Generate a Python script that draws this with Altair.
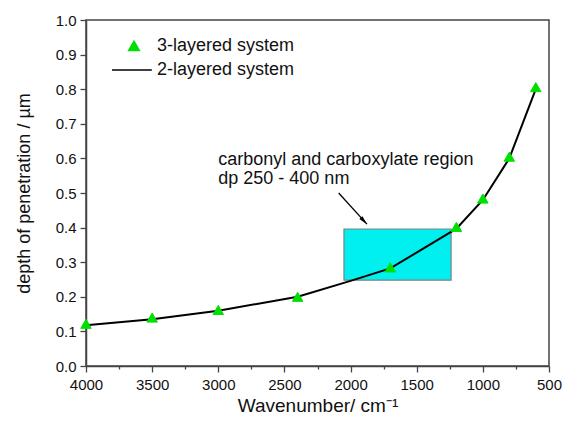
import altair as alt
import pandas as pd

# 3-layered system (triangles)
tri_x = [4000, 3500, 3000, 2400, 1700, 1200, 1000, 800, 600]
tri_y = [0.122, 0.140, 0.162, 0.200, 0.285, 0.402, 0.484, 0.605, 0.806]
# 2-layered system (line)
line_x = [4000, 3500, 3000, 2400, 2000, 1700, 1200, 1000, 800, 600]
line_y = [0.118, 0.135, 0.160, 0.200, 0.246, 0.282, 0.397, 0.480, 0.600, 0.800]
series_names = ["3-layered system", "2-layered system"]

# highlighted region
rect_x = [2050, 1240]
rect_y = [0.248, 0.396]
# arrow
arrow_x = [2090, 1876]
arrow_y = [0.500, 0.410]
# annotation
note_x = [3000]
note_y = [0.58]
note_text = ["carbonyl and carboxylate region\ndp 250 - 400 nm"]

x_ticks = [4000, 3500, 3000, 2500, 2000, 1500, 1000, 500]
x_minor = [3750, 3250, 2750, 2250, 1750, 1250, 750]
y_ticks = [0.0, 0.1, 0.2, 0.3, 0.4, 0.5, 0.6, 0.7, 0.8, 0.9, 1.0]

df = pd.concat([
    pd.DataFrame({"x": tri_x, "y": tri_y, "series": series_names[0]}),
    pd.DataFrame({"x": line_x, "y": line_y, "series": series_names[1]}),
])
rect_df = pd.DataFrame({"x": [rect_x[0]], "x2": [rect_x[1]], "y": [rect_y[0]], "y2": [rect_y[1]]})
arrow_df = pd.DataFrame({"x": [arrow_x[0]], "x2": [arrow_x[1]], "y": [arrow_y[0]], "y2": [arrow_y[1]]})
head_df = pd.DataFrame({"x": [arrow_x[1]], "y": [arrow_y[1]]})
note_df = pd.DataFrame({"x": note_x, "y": note_y, "t": note_text})
minor_df = pd.DataFrame({"x": x_minor, "y": [0.0] * len(x_minor)})

FONT = "Liberation Sans"
GREEN = "#00E000"
xscale = alt.Scale(domain=[500, 4000], reverse=True, nice=False)
yscale = alt.Scale(domain=[0, 1], nice=False)

x_axis = alt.Axis(values=x_ticks, title="Wavenumber/ cm\u207b\u00b9", orient="bottom",
                  tickSize=6, labelPadding=5, titlePadding=4, labelFontSize=15,
                  titleFontSize=19, grid=False, labelFlush=False, format="d")
x_minor_axis = alt.Axis(values=x_minor, title=None, orient="bottom", labels=False,
                        domain=False, tickSize=3, grid=False)
y_axis = alt.Axis(values=y_ticks, title="depth of penetration / \u00b5m", format=".1f",
                  tickSize=6, labelPadding=4, titlePadding=22, labelFontSize=15,
                  titleFontSize=18, grid=False, labelFlush=False)


def X(axis=None):
    return alt.X("x:Q", scale=xscale, axis=axis)


def Y():
    return alt.Y("y:Q", scale=yscale, axis=y_axis)


legend = alt.Legend(
    title=None, orient="none", legendX=39, legendY=17, rowPadding=6, symbolSize=110,
    labelFontSize=18, labelOffset=14, labelFont=FONT, labelColor="#111",
    symbolStrokeWidth=1.6, symbolFillColor=GREEN, symbolOpacity=1,
)
color = alt.Color("series:N", scale=alt.Scale(domain=series_names, range=[GREEN, "black"]),
                  legend=legend)
shape = alt.Shape("series:N",
                  scale=alt.Scale(domain=series_names, range=["triangle-up", "M-4.2,0L3.4,0"]),
                  legend=legend)

base = alt.Chart(df)

rect = alt.Chart(rect_df).mark_rect(fill="#00F0F0", stroke="#808080", strokeWidth=1.2).encode(
    x=X(x_axis), x2="x2", y=Y(), y2="y2")

line = base.mark_line(strokeWidth=2).encode(
    x=X(), y=Y(), color=color
).transform_filter(alt.datum.series == series_names[1])

pts = base.mark_point(filled=False, fill=GREEN, fillOpacity=1, opacity=1, strokeWidth=1,
                      size=110).encode(
    x=X(), y=Y(), color=color, shape=shape
).transform_filter(alt.datum.series == series_names[0])

arrow = alt.Chart(arrow_df).mark_rule(color="black", strokeWidth=1.3).encode(
    x=X(), x2="x2", y=Y(), y2="y2")

head = alt.Chart(head_df).mark_point(shape="M0,0L-0.4,1.7L0.4,1.7Z", filled=True, color="black",
                                     size=110, angle=137, opacity=1).encode(x=X(), y=Y())

note = alt.Chart(note_df).mark_text(align="left", baseline="alphabetic", fontSize=18, font=FONT,
                                    lineBreak="\n", lineHeight=19, color="#111").encode(
    x=X(), y=Y(), text="t:N")

minor = alt.Chart(minor_df).mark_point(opacity=0).encode(x=X(x_minor_axis), y=Y())

chart = alt.layer(rect, line, pts, arrow, head, note, minor).resolve_axis(x="independent").properties(
    width=463, height=346,
    autosize=alt.AutoSizeParams(type="none"),
    padding={"left": 78, "top": 12, "right": 13, "bottom": 51},
).configure_view(stroke="#444", strokeWidth=1.5).configure_axis(
    domainColor="#444", domainWidth=1.5, tickColor="#444", tickWidth=1.3,
    labelFont=FONT, titleFont=FONT, labelColor="#111", titleColor="#111", titleFontWeight="normal"
)

chart.save("out.html", embed_options={"renderer": "svg", "actions": False})
